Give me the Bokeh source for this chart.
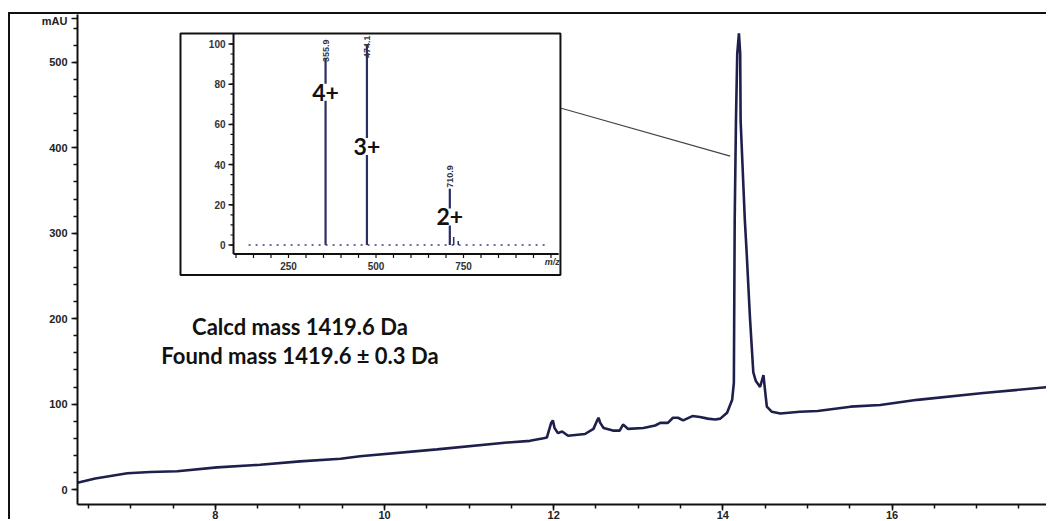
import math
import numpy as np
from bokeh.plotting import figure
from bokeh.models import Range1d, SingleIntervalTicker, FixedTicker
from bokeh.core.properties import value
from bokeh.embed import file_html
from bokeh.resources import INLINE

# ---------------- data ----------------
# HPLC chromatogram (retention time in min, absorbance in mAU)
time_min = [6.37, 6.58, 6.96, 7.23, 7.55, 8.02, 8.53, 9.00, 9.48, 9.71, 10.62, 11.45, 11.72,
            11.88, 11.92, 11.97, 11.99, 12.01, 12.05, 12.10, 12.17, 12.37, 12.47, 12.51, 12.53,
            12.55, 12.59, 12.70, 12.78, 12.82, 12.88, 13.06, 13.20, 13.26, 13.35, 13.41, 13.47,
            13.53, 13.64, 13.73, 13.82, 13.91, 13.97, 14.05, 14.11, 14.13, 14.14, 14.155, 14.17,
            14.19, 14.205, 14.21, 14.26, 14.28, 14.32, 14.36, 14.39, 14.42, 14.44, 14.48, 14.50,
            14.52, 14.58, 14.68, 14.91, 15.12, 15.51, 15.86, 16.30, 17.08, 17.85]
absorbance_mau = [8, 13, 19, 20.5, 21.5, 26, 29, 33, 36, 39, 47, 55, 57,
                  60, 61, 78, 81, 72, 66, 68, 63, 65, 71, 80, 84,
                  78, 72, 69, 69, 76, 71, 72, 75, 78, 78, 84, 84,
                  81, 86, 85, 83, 82, 83, 90, 105, 125, 315, 432, 510,
                  534, 510, 432, 315, 280, 202, 137, 127, 123, 120, 134, 115,
                  97, 91, 89, 91, 92, 97, 99, 105, 113, 120]

# ESI-MS inset (m/z, relative intensity %)
ms_mz = [355.9, 474.1, 710.9]
ms_intensity = [93, 100, 28]
ms_peak_labels = ["355.9", "474.1", "710.9"]
ms_charge_labels = ["4+", "3+", "2+"]
ms_charge_y = [76, 49, 14]
ms_label_y = [91, 93, 28.5]
ms_minor_mz = [722.0, 735.0]
ms_minor_int = [4, 2]
ms_baseline_mz = [136, 991]

y_tick_values = [0, 100, 200, 300, 400, 500]
y_unit_label = "mAU"
x_tick_values = [8, 10, 12, 14, 16]
ms_y_tick_values = [0, 20, 40, 60, 80, 100]
ms_x_tick_values = [250, 500, 750]

annotation_lines = ["Calcd mass 1419.6 Da", "Found mass 1419.6 \u00b1 0.3 Da"]

# ---------------- figure ----------------
NAVY = "#1e1f4b"
UNIT_POS = 551
p = figure(width=1038, height=507, x_range=Range1d(6.37, 17.85), y_range=Range1d(-17.5, 556),
           output_backend="svg", toolbar_location=None,
           min_border_left=67, min_border_right=0, min_border_top=0, min_border_bottom=16)
p.styles = {"margin-left": "8px", "margin-top": "12px",
            "border-left": "2px solid #111", "border-top": "2px solid #111"}
p.outline_line_color = None
p.xgrid.visible = False
p.ygrid.visible = False
p.background_fill_color = "white"
p.border_fill_color = "white"

p.xaxis.ticker = SingleIntervalTicker(interval=2, num_minor_ticks=4)
p.yaxis.ticker = FixedTicker(ticks=y_tick_values + [UNIT_POS],
                             minor_ticks=[v for v in range(0, 541, 20)])
p.yaxis.major_label_overrides = {UNIT_POS: y_unit_label}
for ax in (p.xaxis[0], p.yaxis[0]):
    ax.axis_line_width = 2
    ax.axis_line_color = "#111"
    ax.major_tick_line_color = "#111"
    ax.minor_tick_line_color = "#111"
    ax.major_tick_line_width = 1.5
    ax.minor_tick_line_width = 1.5
    ax.major_tick_in = 0
    ax.minor_tick_in = 0
    ax.major_tick_out = 6
    ax.minor_tick_out = 4
    ax.major_label_text_font = "Liberation Sans"
    ax.major_label_text_font_style = "bold"
    ax.major_label_text_font_size = "11px"
    ax.major_label_text_color = "#222"
p.xaxis.major_label_standoff = 0
p.yaxis.major_label_standoff = 4

p.line(time_min, absorbance_mau, line_color=NAVY, line_width=2.6)

# connector from inset to main peak
p.line([12.09, 14.087], [446.3, 390.2], line_color="#444", line_width=1.2)

# annotation text
p.text(x=[9.0, 9.0], y=[190.4, 156.5], text=annotation_lines, text_align="center",
       text_baseline="middle", text_font=value("Lato"), text_font_style="bold",
       text_font_size="22px", text_color="#111")

# ---------------- inset (own ranges) ----------------
p.extra_x_ranges = {"mz": Range1d(-352.86, 2421.43)}
p.extra_y_ranges = {"ms": Range1d(-129.03, 114.64)}
R = dict(x_range_name="mz", y_range_name="ms")
MZ_PX = 1 / 0.35   # m/z units per pixel
I_PX = 1 / 2.015   # intensity units per pixel
ax_mz = 92.9
ax_I = -4.47

p.quad(left=-58.6, right=1027, bottom=-14.9, top=105.2, fill_color="white",
       line_color="#111", line_width=2, **R)
# axis lines
p.segment(x0=[ax_mz, ax_mz], y0=[ax_I, ax_I], x1=[ax_mz, 1022], y1=[105.2, ax_I],
          line_color="#111", line_width=2, **R)
# y ticks
ymin = np.arange(0, 101, 5)
p.segment(x0=ax_mz - 3 * MZ_PX, y0=ymin, x1=ax_mz, y1=ymin, line_color="#111", line_width=1.2, **R)
p.segment(x0=ax_mz - 5 * MZ_PX, y0=ms_y_tick_values, x1=ax_mz, y1=ms_y_tick_values,
          line_color="#111", line_width=1.5, **R)
p.text(x=ax_mz - 8 * MZ_PX, y=ms_y_tick_values, text=[str(v) for v in ms_y_tick_values],
       text_align="right", text_baseline="middle", text_font=value("Liberation Sans"),
       text_font_style="bold", text_font_size="10px", text_color="#333", **R)
# x ticks
xmin = np.arange(100, 1001, 50)
p.segment(x0=xmin, y0=ax_I, x1=xmin, y1=ax_I - 4 * I_PX, line_color="#111", line_width=1.2, **R)
p.text(x=ms_x_tick_values, y=ax_I - 12 * I_PX, text=[str(v) for v in ms_x_tick_values],
       text_align="center", text_baseline="middle", text_font=value("Liberation Sans"),
       text_font_style="bold", text_font_size="10px", text_color="#333", **R)
p.text(x=[1025], y=[ax_I - 8 * I_PX], text=["m/z"], text_align="right", text_baseline="middle",
       text_font=value("Liberation Sans"), text_font_style="bold italic", text_font_size="9px",
       text_color="#333", **R)

# baseline noise
p.line(ms_baseline_mz, [0, 0], line_color="#6a6e9a", line_width=2, line_dash="2 5", **R)
# peaks
p.segment(x0=ms_mz, y0=[0] * 3, x1=ms_mz, y1=ms_intensity, line_color="#2b2d63", line_width=2.2, **R)
p.segment(x0=ms_minor_mz, y0=[0] * 2, x1=ms_minor_mz, y1=ms_minor_int, line_color="#2b2d63",
          line_width=1.5, **R)
p.text(x=ms_mz, y=ms_label_y, text=ms_peak_labels, angle=math.pi / 2, text_align="left",
       text_baseline="middle", text_font=value("Liberation Sans"), text_font_style="bold",
       text_font_size="9px", text_color="#333344", **R)
p.text(x=ms_mz, y=ms_charge_y, text=ms_charge_labels, text_align="center", text_baseline="middle",
       text_font=value("Lato"), text_font_style="bold", text_font_size="23px", text_color="#111",
       background_fill_color="white", **R)

open("out.html", "w").write(file_html(p, INLINE))
